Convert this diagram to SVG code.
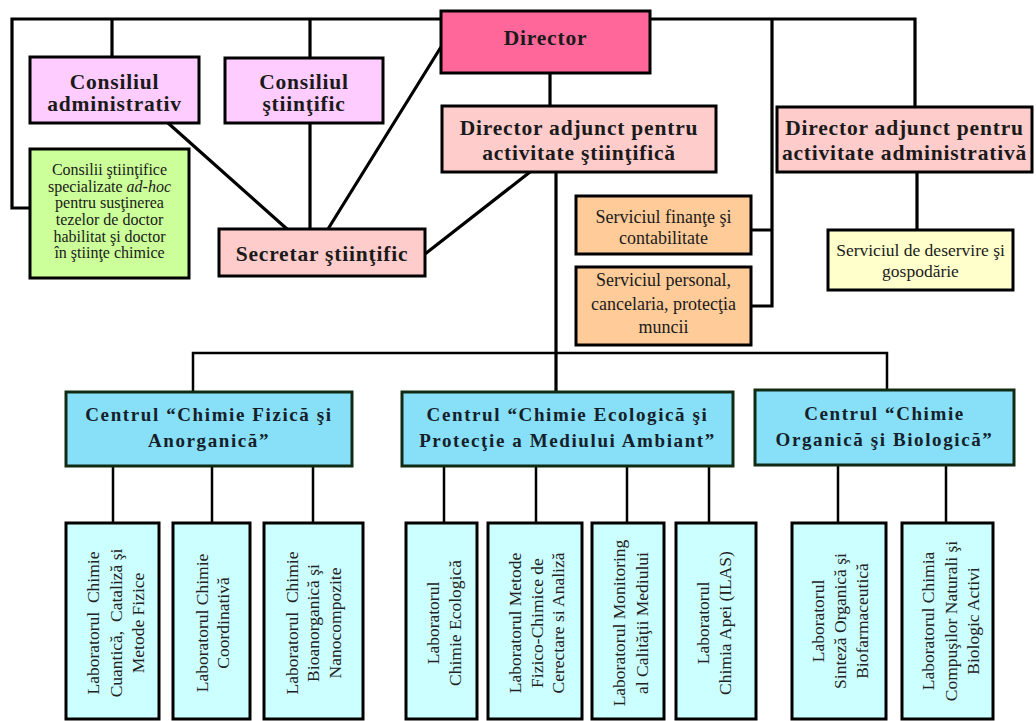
<svg xmlns="http://www.w3.org/2000/svg" width="1036" height="721" viewBox="0 0 1036 721">
<style>
text{font-family:"Liberation Serif","Times New Roman",serif;fill:#1a1a1a;text-anchor:middle}
.b{stroke:#000;stroke-width:3}
.bc{stroke:#102a14;stroke-width:3}
.h1{font-weight:bold;font-size:21.5px;letter-spacing:0.8px}
.c{font-weight:bold;font-size:19px;letter-spacing:1.6px;fill:#14202a}
.s{font-size:18px}
.g{font-size:16px}
.lab{font-size:17.5px;fill:#222}
.ln{fill:none;stroke:#000;stroke-width:3.2}
.ln2{fill:none;stroke:#000;stroke-width:2.5}
</style>
<rect width="1036" height="721" fill="#fff"/>
<g id="connectors">
<path class="ln" d="M30,208 H12 V19 H441 M650,19 H915 V107 M112,19 V57 M310,19 V58 M772,19 V306 H751 M772,230 H751 M550,73 V106 M168,123 L287,229 M310,123 V229 M441,47 L328,229 M425,254 L530,172 M917,172 V230 M556,172 V392"/>
<path class="ln2" d="M193,392 V353 H887 V390 M113,466 V523 M212,466 V523 M313,466 V523 M444,466 V523 M536,466 V523 M627,466 V523 M709,466 V523 M838,465 V523 M946,465 V523"/>
</g>
<g id="director"><rect class="b" x="441" y="11" width="209" height="62" fill="#FF6699"/><text class="h1" x="545.5" y="45">Director</text></g>
<g id="consiliul-administrativ"><rect class="b" x="30" y="57" width="169" height="66" fill="#FFCCFF"/><text class="h1" x="114.5" y="89">Consiliul<tspan x="114.5" y="111">administrativ</tspan></text></g>
<g id="consiliul-stiintific"><rect class="b" x="225" y="58" width="158" height="65" fill="#FFCCFF"/><text class="h1" x="304" y="89">Consiliul<tspan x="304" y="111">ştiinţific</tspan></text></g>
<g id="dir-adj-stiintific"><rect class="b" x="442" y="106" width="274" height="66" fill="#FFCCCC"/><text class="h1" x="579" y="135">Director adjunct pentru<tspan x="579" y="160">activitate ştiinţifică</tspan></text></g>
<g id="dir-adj-admin"><rect class="b" x="777" y="107" width="255" height="65" fill="#FFCCCC"/><text class="h1" x="904.5" y="135">Director adjunct pentru<tspan x="904.5" y="160">activitate administrativă</tspan></text></g>
<g id="consilii-ad-hoc"><rect class="b" x="30" y="149" width="159" height="129" fill="#CCFF99"/><text class="g" x="109.5" y="175">Consilii ştiinţifice<tspan x="109.5" y="192">specializate <tspan font-style="italic">ad-hoc</tspan></tspan><tspan x="109.5" y="208">pentru susţinerea</tspan><tspan x="109.5" y="225">tezelor de doctor</tspan><tspan x="109.5" y="242">habilitat şi doctor</tspan><tspan x="109.5" y="258">în ştiinţe chimice</tspan></text></g>
<g id="secretar"><rect class="b" x="219" y="229" width="206" height="47" fill="#FFCCCC"/><text class="h1" x="322" y="261">Secretar ştiinţific</text></g>
<g id="serviciul-finante"><rect class="b" x="576" y="196" width="175" height="58" fill="#FFCC99"/><text class="s" x="663.5" y="223">Serviciul finanţe şi<tspan x="663.5" y="244">contabilitate</tspan></text></g>
<g id="serviciul-personal"><rect class="b" x="576" y="267" width="175" height="78" fill="#FFCC99"/><text class="s" x="663.5" y="286">Serviciul personal,<tspan x="663.5" y="310">cancelaria, protecţia</tspan><tspan x="663.5" y="333">muncii</tspan></text></g>
<g id="serviciul-deservire"><rect class="b" x="828" y="230" width="185" height="60" fill="#FFFFCC"/><text class="s" x="920.5" y="256" style="font-size:17.5px">Serviciul de deservire şi<tspan x="920.5" y="277">gospodărie</tspan></text></g>
<g id="centrul-1"><rect class="bc" x="66" y="392" width="286" height="74" fill="#88E0F8"/><text class="c" x="209" y="421">Centrul “Chimie Fizică şi<tspan x="209" y="447">Anorganică”</tspan></text></g>
<g id="centrul-2"><rect class="bc" x="402" y="392" width="331" height="74" fill="#88E0F8"/><text class="c" x="567.5" y="421">Centrul “Chimie Ecologică şi<tspan x="567.5" y="447">Protecţie a Mediului Ambiant”</tspan></text></g>
<g id="centrul-3"><rect class="bc" x="755" y="390" width="259" height="75" fill="#88E0F8"/><text class="c" x="884.5" y="420">Centrul “Chimie<tspan x="884.5" y="446">Organică şi Biologică”</tspan></text></g>
<g id="lab-1"><rect class="b" x="66" y="523" width="93" height="196" fill="#CCFFFF"/><text class="lab" transform="translate(112.5,623) rotate(-90)"><tspan x="0" y="-13.5">Laboratorul&#160; Chimie</tspan><tspan x="0" y="9.5">Cuantică,&#160; Cataliză şi</tspan><tspan x="0" y="31.5">Metode Fizice</tspan></text></g>
<g id="lab-2"><rect class="b" x="173" y="523" width="77" height="196" fill="#CCFFFF"/><text class="lab" transform="translate(211.5,623) rotate(-90)"><tspan x="0" y="-3.5">Laboratorul Chimie</tspan><tspan x="0" y="17.5">Coordinativă</tspan></text></g>
<g id="lab-3"><rect class="b" x="264" y="523" width="99" height="196" fill="#CCFFFF"/><text class="lab" transform="translate(313.5,623) rotate(-90)"><tspan x="0" y="-15.5">Laboratorul&#160; Chimie</tspan><tspan x="0" y="5.5">Bioanorganică şi</tspan><tspan x="0" y="27.5">Nanocompozite</tspan></text></g>
<g id="lab-4"><rect class="b" x="406" y="523" width="71" height="196" fill="#CCFFFF"/><text class="lab" transform="translate(441.5,623) rotate(-90)"><tspan x="0" y="-2.5">Laboratorul</tspan><tspan x="0" y="19.5">Chimie Ecologică</tspan></text></g>
<g id="lab-5"><rect class="b" x="488" y="523" width="94" height="196" fill="#CCFFFF"/><text class="lab" transform="translate(535,623) rotate(-90)"><tspan x="0" y="-14">Laboratorul Metode</tspan><tspan x="0" y="8">Fizico-Chimice de</tspan><tspan x="0" y="29">Cerectare si Analiză</tspan></text></g>
<g id="lab-6"><rect class="b" x="592" y="523" width="72" height="196" fill="#CCFFFF"/><text class="lab" transform="translate(628,623) rotate(-90)"><tspan x="0" y="-3">Laboratorul Monitoring</tspan><tspan x="0" y="20">al Calităţii Mediului</tspan></text></g>
<g id="lab-7"><rect class="b" x="676" y="523" width="80" height="196" fill="#CCFFFF"/><text class="lab" transform="translate(716,623) rotate(-90)"><tspan x="0" y="-7">Laboratorul</tspan><tspan x="0" y="15">Chimia Apei (ILAS)</tspan></text></g>
<g id="lab-8"><rect class="b" x="792" y="523" width="94" height="196" fill="#CCFFFF"/><text class="lab" transform="translate(839,621) rotate(-90)"><tspan x="0" y="-15">Laboratorul</tspan><tspan x="0" y="7">Sinteză Organică şi</tspan><tspan x="0" y="29">Biofarmaceutică</tspan></text></g>
<g id="lab-9"><rect class="b" x="902" y="523" width="91" height="196" fill="#CCFFFF"/><text class="lab" transform="translate(947.5,621) rotate(-90)"><tspan x="0" y="-13.5">Laboratorul Chimia</tspan><tspan x="0" y="9.5">Compuşilor Naturali şi</tspan><tspan x="0" y="31.5">Biologic Activi</tspan></text></g>
</svg>
